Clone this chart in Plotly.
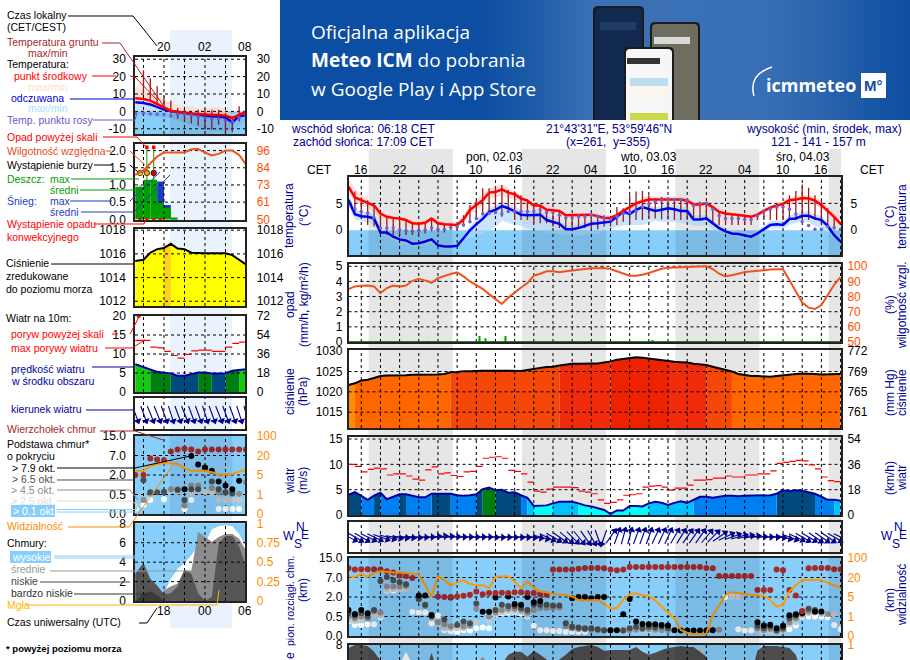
import numpy as np
import plotly.graph_objects as go

W, H = 910, 660
FONT = "Liberation Sans"

# ---------- main meteogram data (hourly, hours relative to 02.03 00:00 CET) ----------
hours = list(range(-10, 68))
tick_hours = list(range(-8, 68, 3))
label_hours = [-8, -2, 4, 10, 16, 22, 28, 34, 40, 46, 52, 58, 64]
label_text = ["16", "22", "04", "10", "16", "22", "04", "10", "16", "22", "04", "10", "16"]
sun_bands = [(-6.85, 6.3), (17.15, 30.3), (41.15, 54.3), (65.15, 67.07)]

temp_mid = [8.1,6.1,5.6,5.1,4.6,3.1,2.5,2.3,2.2,1.9,
            1.3,1.2,1.4,2.2,1.3,1.1,1.1,1.0,2.0,3.8,
            4.7,5.6,7.0,7.1,7.6,7.0,6.7,5.9,5.5,4.6,
            4.6,3.8,3.7,3.6,2.8,2.8,2.8,2.8,2.9,2.6,
            2.3,2.3,2.8,3.6,4.3,5.0,5.4,5.7,5.7,5.7,
            5.8,5.7,5.7,5.5,4.8,4.8,5.0,4.3,3.4,3.1,
            3.0,2.8,2.7,2.5,2.9,3.6,4.2,4.6,4.9,5.6,
            5.7,6.0,5.9,5.5,4.7,3.6,2.5,1.2]
temp_feel = [5.6,3.0,2.6,2.5,2.2,-0.4,-0.4,-1.2,-1.7,-1.9,
             -2.5,-2.4,-2.1,-1.7,-2.8,-3.0,-3.0,-2.9,-1.5,0.0,
             1.1,2.1,3.4,3.8,4.5,4.1,3.5,2.9,2.8,2.8,
             2.9,1.9,1.5,1.2,0.2,0.2,0.4,0.8,1.2,1.3,
             1.5,1.6,2.5,3.5,3.0,3.8,4.3,3.9,3.6,3.8,
             4.1,3.9,3.6,3.6,2.0,2.0,2.2,1.3,0.4,-0.2,
             -0.6,-0.7,-0.9,-1.2,-0.6,0.2,1.0,1.1,1.0,2.1,
             2.2,2.7,2.7,2.2,1.9,0.8,-0.9,-2.1]
temp_dew = [None,4.0,3.5,3.2,2.3,0.4,0.4,0.4,0.1,-0.1,
            -0.2,0.0,0.1,0.4,0.2,0.2,0.5,0.6,1.0,1.6,
            2.2,3.0,3.1,3.3,3.0,3.5,3.5,3.5,3.5,3.6,
            3.8,3.3,3.3,2.8,2.3,2.3,2.5,2.5,2.8,2.6,
            2.3,2.0,2.5,3.1,3.3,3.6,4.3,4.9,5.3,5.6,
            5.7,5.7,5.7,5.6,4.6,5.0,5.0,3.9,2.7,2.2,
            2.2,2.2,2.0,2.0,2.7,3.6,4.0,4.3,4.3,3.9,
            3.0,1.6,0.9,0.2,0.2,0.7,0.5,0.2]
temp_max = [9.6,7.7,6.7,5.9,5,3.8,3,2.7,2.5,2.4,
            1.9,1.6,1.9,2.5,1.9,1.7,1.6,1.4,2.8,4.7,
            5.6,6.8,7.7,8.1,8.6,7.7,7.3,6.5,6,5,
            5,4.5,4.4,4,3.4,3.3,3.3,3.3,3.3,3,
            2.8,2.8,3.2,4,4.8,5.5,5.9,6.3,6.3,6.3,
            6.3,6.3,6.3,6.2,5.3,5.3,5.5,4.8,3.9,3.6,
            3.4,3.3,3.2,3,3.4,4.1,4.7,5.1,5.4,6.1,
            6.3,6.6,6.5,6.2,5.5,4.5,3.4,2.3]
temp_min = [6.8,5.3,4.6,4.2,3.6,2.4,1.9,1.8,1.7,1.5,
            0.9,0.8,1,1.7,0.8,0.7,0.7,0.6,1.4,3,
            3.8,4.6,5.8,6,6.4,6,5.7,5,4.7,3.9,
            3.9,3.2,3.1,3,2.3,2.3,2.3,2.3,2.4,2.1,
            1.9,1.9,2.3,2.9,3.5,4.1,4.6,4.9,4.9,5,
            5.1,5,5,4.8,4.2,4.2,4.4,3.7,2.9,2.6,
            2.5,2.4,2.3,2.1,2.4,3,3.5,3.9,4.2,4.7,
            4.9,5.2,5.1,4.7,4,3,1.9,0.6]
feel_max = [6.6,4,3.5,3.3,3.0,0.2,0.1,-0.7,-1.2,-1.5,
            -2,-2,-1.7,-1.3,-2.3,-2.6,-2.6,-2.5,-0.8,0.8,
            2,3,4.2,4.6,5.3,4.9,4.4,3.8,3.6,3.6,
            3.7,2.7,2.3,2,1,1,1.1,1.5,1.9,2,
            2.1,2.2,3.2,4.1,3.7,4.5,5,4.6,4.3,4.5,
            4.9,4.7,4.4,4.4,2.8,2.8,3,2,1,0.4,
            0,-0.2,-0.4,-0.7,0,0.9,1.7,1.8,1.7,2.8,
            3,3.5,3.5,3,2.7,1.6,-0.2,-1.5]
feel_min = [4.6,2,1.7,1.5,1,-0.9,-1.2,-1.8,-2.4,-2.6,
            -3,-3,-2.8,-2.5,-3.2,-3.3,-3.3,-3.2,-2.2,-1.4,
            -1,-0.6,0,0.6,1.8,1.4,1,0.8,0.4,0.2,
            0.2,-0.4,-0.6,-0.7,-0.9,-1,-1,-0.8,-0.7,-0.7,
            -0.2,0.2,0.6,0.9,1,1,1,1.4,1.8,1.6,
            1.6,1.6,1.4,1.2,0.9,0.8,0.9,0.2,-0.4,-0.8,
            -1,-1.2,-1.4,-1.6,-1,-0.3,0.3,0.4,0.3,1,
            1.4,1.8,1.5,0.8,0.4,-0.4,-1.5,-2.6]
ground_max = [None,7.2,6.1,5.6,4.7,2.8,2.5,2.3,2.2,1.9,
              1.3,1.2,1.4,2.2,1.3,1.2,1,0.9,2.8,4.7,
              5.6,7.8,7.8,8.1,8.4,7.5,7.2,6.5,5.7,5,
              4.7,3.9,3.9,3.6,2.8,2.8,2.8,2.8,3,2.8,
              2.8,2.5,4.3,4.1,6.5,7.2,7.3,6.5,5.9,6.2,
              6.2,5.9,5.9,5.7,5,5,5.3,4.3,3.5,3.1,
              3,3,2.8,2.7,2.9,3.6,4.3,4.6,5,6.5,
              7.3,8.5,7.9,6.5,5.6,4.1,2.5,None]
ground_min = [None,3.3,2.5,1,0.7,-0.6,-0.9,-0.9,-0.9,-0.9,
              -0.9,-0.7,-0.6,-0.2,-0.4,-0.4,0,0.1,0.7,1.6,
              2.5,3.1,3.3,3.1,2.5,3.5,1.9,1.9,1.9,1.3,
              1.3,1.3,0.7,0.4,0.4,0.2,0.4,0.4,0.2,0.2,
              0.7,0.7,1,1.6,1.3,1.9,1.9,2.2,2.2,2,
              2,1.9,1.9,1.9,2,2.2,1.9,1.3,1,1,
              1,1,1,1,1.9,1.9,1.9,1.9,1.9,1.9,
              1.9,1.9,1.9,1.9,1.3,0.7,0.1,None]
humidity = [84.9,86.7,87.1,87.3,86.7,82.2,85.6,87.3,86.7,87.3,
            90.4,91.6,90.7,89.1,92.2,93.8,94.9,96,93.3,90,
            87.3,85.1,81.6,78.4,75.1,79.3,82.9,86,88.9,93.8,
            95.1,96.7,96.7,96,96.7,97.3,97.8,98.4,98.7,98.7,
            98.9,98.2,96.7,95.1,93.8,93.8,94.4,95.6,96.9,98.4,
            99.1,99.3,99.6,99.8,100,100,100,98.2,95.1,93.3,
            94,95.1,96.2,96.7,97.1,97.6,97.8,98,98,90.7,
            83.3,76,72.7,71.8,74.4,81.1,87.8,92.9]
rain_hours = [2.5, 10.45, 11.4, 12.5, 14.6, 37.6]
rain_values = [0.05, 0.4, 0.25, 0.05, 0.4, 0.1]
pressure = [1021.7,1022.1,1022.8,1023,1023.4,1023.9,1024,1024,1024.1,1024.1,
            1024.2,1024.2,1024.2,1024.3,1024.3,1024.4,1024.8,1024.9,1025.1,1025.1,
            1025.2,1025.2,1025.2,1025.2,1025.2,1025.2,1025.15,1025.15,1025.4,1025.7,
            1025.9,1026.1,1026.2,1026.5,1026.7,1026.9,1026.9,1027,1027,1027,
            1027.2,1027.5,1027.9,1028.1,1028.4,1028.5,1028.4,1028.2,1028,1027.8,
            1027.5,1027.4,1027.3,1027.2,1026.9,1026.7,1026.6,1026.2,1025.8,1025.4,
            1025,1024.4,1024.1,1023.9,1023.9,1023.8,1023.7,1023.9,1024.1,1024.3,
            1024.4,1024.5,1024.5,1024.4,1024.3,1024.3,1024.3,1024.4]
wind = [4,4.5,3.8,3,3.8,4.4,3.1,3.6,4.1,4.1,
        3.8,3.5,3.5,4.2,4.2,4.2,4.2,3.9,3.8,3.9,
        4.1,5.1,5.4,4.9,5,4.4,4.5,3.9,3.4,1.8,
        1.8,1.9,2.3,2.6,2.6,2.6,2.3,1.9,1.7,1.3,
        1,0.2,0.9,0.9,1.8,1.8,1.7,2.3,2.6,2.4,
        2,2.4,2.7,2.4,3,3.6,3.6,3.4,3.6,3.8,
        3.8,3.7,3.8,3.8,3.8,3.8,3.9,4.2,4.9,4.7,
        4.9,4.8,4.5,4.2,3.6,3,3,2.8]
gust = [10,9.6,8.5,9,9.25,9.1,7.9,8.1,8.1,7.7,
        7.1,6.9,8.9,9.5,8.1,8.3,7.8,7.6,8.5,8.6,
        9.6,11.2,11.4,11.5,11.2,8.8,8.6,8.1,6.5,4.7,
        4.5,5.1,5.5,5.5,5.5,5.4,4.7,4.5,4.2,3,
        2.3,2.5,3,3.9,4,4.2,5.5,5.7,5.8,5.5,
        4.9,5.3,5.3,5.9,6.9,6.9,7,7.3,7.3,7.7,
        7.5,7.5,7.9,7.9,8.1,8.1,8.7,10.2,10.4,10.6,
        10.8,10.7,9.9,9.1,7.5,6.8,6.6]
wind_dir = [295,300,300,295,295,290,285,280,278,276,
            275,272,270,265,262,265,268,270,270,270,
            270,270,272,272,272,272,272,272,275,278,
            285,295,300,305,310,315,320,325,330,340,
            20,215,200,195,195,200,200,200,205,205,
            205,210,212,215,215,215,220,225,235,245,
            250,255,258,262,268,270,272,275,285,290,
            295,300,300,305,305,305,300,295]
visibility = [25,22,35,23,38,46,44,41,42,39,
              37,33,14,5.4,25,18,14,16,18,15,
              14,14,12,23,23,25,17,12,17,12,
              9.2,8.7,7.4,7.2,6.6,5.4,4.4,4.3,4.3,4.4,
              3.6,2.7,2.7,4.4,7.2,7.9,6.2,6,4.3,3,
              1.7,0.9,0.31,0.17,0.1,0.1,0.12,1.3,3.2,6.6,
              8.7,8,7,6.5,6.2,6,4.4,3,3.4,9.2,
              14,18,18,18,18,16,14,12]

top_hours = list(range(-10, 1)) + list(range(4, 68))
top_km = [10.8,10.3,10.4,10.4,10.4,10.3,9.6,9.1,7.8,7.6,6.9,
          2.1,2,2,2.1,2.3,2.6,3.4,2.7,3,3,3.1,3,3.2,3.2,3,3,2.7,2.6,
          10.3,10.3,10.3,10.3,10.6,10.9,10.9,10.9,10.8,10.3,10,10.3,
          11.3,11.3,11.3,11.3,11.3,11.3,11.3,11.3,11.3,11.3,11.3,11.3,10.9,10.8,
          7.6,7.6,7.6,7.6,7.6,7.6,3.8,3.8,3.8,10.3,10,3.8,2.4,0.9,
          10.8,10.9,10.9,10.9,10.4,10.4]
black_hours = [-10,-9,-8,-7,1,2,3,6,11,12,13,15,16,17,18,19,20,25,26,27,28,29,30,31,32,33,34,35,36,37,38,39,40,41,42,43,44,45,46,47,54,55,56,57,58,59,60,61,63,64]
black_km = [1.0,0.7,1.0,0.75,2.4,2.4,0.62,1.96,0.86,0.86,1.96,2.1,1.47,1.4,2.0,1.6,1.7,1.9,2,2,1.9,2,2,0.15,0.15,0.67,1.85,0.37,0.31,0.3,0.3,0.28,0.27,0.15,0.14,0.14,0.14,0.14,0.14,0.15,0.35,0.27,0.29,0.2,0.26,0.6,0.67,0.75,0.875,0.875]
dark_hours = [-10,-9,-8,-7,-6,-5,-4,-3,-2,-1,1,2,3,5,7,8,9,10,13,14,15,16,17,18,19,20,21,22,23,24,25,26,27,28,29,30,31,33,34,35,36,37,38,39,40,54,55,56,57,58,59,60,61,62,63]
dark_km = [0.75,0.55,0.75,0.5,1.0,6.1,7.2,6.3,5.8,5.3,1.85,1.4,0.5,0.42,0.28,0.37,0.33,1.5,1.0,1.4,1.3,1.3,1.15,1.0,1.4,1.4,1.4,1.35,1.35,0.33,0.24,0.22,0.2,0.2,0.17,0.15,0.15,0.15,0.2,0.24,0.2,0.24,0.22,0.24,0.2,0.26,0.2,0.24,0.15,0.2,0.45,0.55,0.9,1.1,1.0]
grey_hours = [-10,-9,-8,-7,-6,-5,-4,-3,-2,-1,1,2,3,4,5,6,8,9,10,12,13,14,15,16,17,18,19,20,21,22,23,24,25,26,27,28,29,30,31,33,34,35,36,37,38,39,40,47,48,54,55,56,57,58,59,60,61,62,63,64,65]
grey_km = [0.5,0.45,0.5,0.45,0.9,0.8,4.7,4.7,4.7,4.8,1.8,1.3,0.5,0.35,0.3,0.25,0.25,0.27,1.1,0.5,0.8,1,1.1,1.1,1,0.8,1,1.15,1.15,1.15,1.2,0.25,0.2,0.18,0.17,0.16,0.15,0.14,0.14,0.13,0.15,0.16,0.17,0.18,0.16,0.15,0.14,0.16,0.16,0.2,0.15,0.18,0.12,0.16,0.35,0.45,0.7,0.9,0.85,0.8,0.7]
light_hours = [-10,-9,-8,-6,-5,-4,-3,-2,-1,3,4,5,6,7,8,9,10,12,13,14,15,16,17,18,33,34,35,36,37,50,51,54,55,56,58,59,60,61,62,63,64,65,66]
light_km = [0.4,0.38,0.4,0.6,0.55,3.8,4,4,4,0.45,0.3,0.2,0.2,0.2,0.2,0.25,0.35,0.4,0.7,0.8,0.9,0.9,0.85,0.6,0.12,0.14,0.15,0.15,0.15,2.0,2.0,0.12,0.12,0.12,0.13,0.3,0.35,0.55,0.75,0.8,0.7,0.75,0.7]
white_hours = [-10,-9,-8,-7,-6,-5,-4,-3,-2,0,1,2,3,4,5,6,7,8,9,10,11,12,13,14,15,16,17,18,19,20,21,22,23,24,25,26,27,49,50,51,52,53,59,60,61,62,63,64,65,66,67]
white_km = [0.37,0.28,0.28,0.3,0.3,0.48,3.6,3.6,3.9,0.85,0.8,0.8,0.32,0.55,0.15,0.12,0.1,0.15,0.14,0.2,0.22,0.2,0.65,0.75,0.8,0.85,0.75,0.5,0.26,0.15,0.15,0.13,0.13,0.1,0.1,0.1,0.1,2.0,2.1,0.17,0.14,0.14,0.17,0.27,0.5,0.5,0.5,0.5,0.48,0.28,0.17]

cloud_low_main = [7.7,8,8,7.9,7.3,6.4,5,5,5,5,
                  6,6,5,7.2,5,5,5,5,5,5,
                  5,5,5,5,6,7,7.3,7.3,6.8,7.4,
                  7,6.5,6,6.5,7,7.6,7.8,7.9,8,7.8,
                  7.4,7.5,7.5,7.5,7.5,7.8,7.3,7,7.2,7.5,
                  7.7,7.8,7.9,7.8,7.8,7.3,6.8,5,5,5,
                  5,5,5,5,7.4,7.9,7.9,7.9,7.8,7.7,
                  7,5,5,5,5,5,5,5]
cloud_high_main_hours = [-2, -1, 0]
cloud_high_main = [6, 7.3, 6]
cloud_mid_main_hours = [10, 11, 12]
cloud_mid_main = [6, 6.8, 6]
fog_main_hours = [44.1, 45.05]
fog_main = [7.6, 7.6]

# ---------- left legend column data (hours CET on the evening shown, 24 = 00:00) ----------
left_hours = [15.8,17,18,19,20,21,22,23,24,25,26,27,28,29,30,31,32]
left_ticks = [17, 20, 23, 26, 29]
left_label_hours = [20, 26, 31.85]
left_top_text = ["20", "02", "08"]
left_bottom_text = ["18", "00", "06"]
l_red = [7.5,7.1,6.2,4.4,2.5,0.4,-0.4,-1,-1.2,-1.5,-2,-2.1,-2.1,-2.5,-3.8,-2,-0.2]
l_blue = [5.2,4.8,4,2.3,1,0.2,-0.4,-1,-1.5,-1.9,-2.5,-3,-3,-3.5,-6.3,-2.5,-2.3]
l_dew = [-1,-1,-1.5,-1.6,-1.9,-2.5,-1.6,-1.7,-2.2,-3,-3.8,-4.4,-4.3,-5.2,-5.8,-3.6,-2.5]
l_tmax = [14,12,10.5,9,7,4.8,3.8,3.2,2.8,1.9,1.9,2.3,2.5,1,-1.9,-1,0.6]
l_tmin = [5.5,5,4.4,2.8,1.2,-0.4,-1,-1.6,-1.9,-2.3,-2.8,-2.9,-3,-3.4,-4.8,-3,-1]
l_fmin = [-1,-1.5,-2.2,-3,-3.8,-3.9,-5.3,-6.6,-8,-9.3,-10.6,-10.9,-11.2,-11.5,-10.5,-8,-5.5]
l_gmax = [None,23.6,19,14.4,9,6.3,1.9,1,0,1,1,1,1,-1,-2.9,2.9,None]
l_gmin = [None,10.6,6.7,4.8,2.5,-1,-4.2,-5.8,-7,-8.3,-10.6,-10.6,-7.7,-12,-12,-5.8,None]
l_humidity = [79.7,82.6,87.5,92,94.7,94.7,94.7,94.7,96.9,97.1,94.7,92.7,93.8,96,96,93.1,86.8]
l_rain_hours = [16.4,17.5,18.5,19.5,20.5,21.5]
l_rain_width = [1.2,1,1,1,1,1]
l_rain = [0.95,1.15,1.15,0.5,0.33,0.05]
l_snow = [0,0,0,1.1,0.42,0]
storm_hours = [16.5,17.5,18.5]
storm_level = [1.35,1.35,1.35]
storm_colors = ["#ffe600","#ffa500","#e00000"]
over_hours = [17.5,18.5]
over_level = [2.1,2.1]
conv_hours = [16.5,17.5,18.5,19.5]
conv_level = [0,0,0,0]
l_pressure = [1015.4,1015.5,1016.1,1016.4,1016.5,1016.85,1016.45,1016.4,1016.1,1016.05,1016.05,1016.05,1016.05,1016.05,1015.9,1015.5,1015.1]
l_wind = [7.3,6.5,5.8,5.3,5.1,4.9,4.3,4.3,4.7,5.1,5.1,4.9,4.9,4.95,5.6,5.8,6]
l_gust = [13.6,13.6,11.8,11.6,10.7,9.6,8.9,9.9,10.8,11,11,10.7,10.7,11.8,12.8,13.1]
l_dir = [340,340,338,338,340,342,340,338,340,340,342,340,338,340,340,342,345]
l_visibility = [8.3,8.3,11.9,13.4,14,14,13.4,10.1,8.3,8.3,8.3,7.1,5.3,5.3,5.8,7.6,8.9]
l_top_km = [2,2,6.2,6.0,5.8,8.6,9.5,9.8,9.5,8.6,9.5,9.5,9.5,9.5,9.5,9.5,9.5]
l_black_hours = [23,24,25,26,27,28,29,30,31]
l_black_km = [0.9,6.9,4.7,3.9,3.1,1.5,1.2,0.9,1.55]
l_dark_hours = [17,18,19,20,22,23,24,25,26,27,28,29,30]
l_dark_km = [1.6,0.67,0.67,0.72,0.85,0.36,0.9,0.9,3.7,1.5,0.9,0.67,0.6]
l_grey_hours = [17,18,21,22,23,24,25,27,28,29,30,31,32]
l_grey_km = [0.36,0.62,0.9,0.9,0.22,1.2,1.2,1.0,0.65,0.62,0.55,0.55,1.45]
l_light_hours = [15.9,17,21,22,24,25,26,27,28,29,30,31,32]
l_light_km = [0.2,0.36,0.85,0.72,0.6,0.75,0.7,0.65,0.36,0.36,0.36,0.36,0.36]
l_white_hours = [15.9,17,18,20,23,24,28,29,30,31]
l_white_km = [0.14,0.23,0.36,0.38,0.12,0.36,0.13,0.13,0.13,0.13]
l_cloud_high = [0,0,0,0,0.8,2.3,3.3,3.9,4.7,5.7,5.9,7.4,7.7,7.8,7.7,6.9,5.6]
l_cloud_mid = [0,0,0,0,1.1,1.5,1.8,3.2,3.1,7.1,6.6,6.1,6.6,6.9,6.9,6.4,5.2]
l_cloud_low = [2.8,3.9,2.3,1.6,0.7,0.8,1.5,3.2,2.8,0.8,0,0.4,5.9,6.7,6.7,5.6,3.5]
l_cloud_vlow = [0,0.8,1,0.6,0,0,0,0,0,0,0,0,0,0,0,0,0]
l_fog_hours = [28.1,29.1,30.1,31.1]
l_fog = [1.1,1.1,1.1,1.1]

# scales
BASE_KM = [0, 0.5, 2, 7, 15]
BASE_VIS = [0, 1, 5, 20, 100]
base_pos = lambda v: [None if a is None else float(np.interp(a, BASE_KM, [0, 1, 2, 3, 4])) for a in v]
vis_pos = lambda v: [float(np.interp(a, BASE_VIS, [0, 1, 2, 3, 4])) for a in v]

# ---------- helpers ----------
fig = go.Figure()
layout = {}
shapes = []
annotations = []
PX = lambda x: x / W
PY = lambda y: 1 - y / H
LEG = 10.5


def text(x, y, s, color="black", size=12, anchor="left", angle=0, family=FONT, bg=None):
    a = dict(x=PX(x), y=PY(y), xref="paper", yref="paper", text=s, showarrow=False,
             xanchor=anchor, yanchor="middle", textangle=angle,
             font=dict(family=family, size=size, color=color), borderpad=0)
    if bg:
        a["bgcolor"] = bg
    annotations.append(a)


def hour_labels(xa, ts, labels, y):
    for t, s in zip(ts, labels):
        annotations.append(dict(x=t, y=PY(y), xref=xa, yref="paper", text=s, showarrow=False, xanchor="center",
                                yanchor="middle", font=dict(family=FONT, size=12, color="black"), borderpad=0))


def leader(pts, color, width=1):
    path = "M " + " L ".join(f"{PX(x):.5f},{PY(y):.5f}" for x, y in pts)
    shapes.append(dict(type="path", path=path, xref="paper", yref="paper", layer="above",
                       line=dict(color=color, width=width)))


def box(x0, y0, x1, y1, color, layer="below"):
    shapes.append(dict(type="rect", xref="paper", yref="paper", x0=PX(x0), x1=PX(x1),
                       y0=PY(y1), y1=PY(y0), fillcolor=color, line=dict(width=0), layer=layer))


count = 1


def panel(xpx, ypx, xr, yr, lt, ltxt=None, rt=None, rtxt=None, rcolor="black", r2=None, lpad=2, rpad=3):
    global count
    count += 1
    n = count
    xa = dict(domain=[PX(xpx[0]), PX(xpx[1])], range=xr, anchor=f"y{n}", showgrid=False, zeroline=False,
              showline=True, mirror=True, linecolor="#222222", linewidth=1.5, layer="above traces",
              ticks="", showticklabels=False, fixedrange=True)
    ya = dict(domain=[PY(ypx[1]), PY(ypx[0])], range=yr, anchor=f"x{n}", showgrid=False, zeroline=False,
              showline=True, mirror=True, linecolor="#222222", linewidth=1.5, layer="above traces",
              tickvals=lt, ticktext=ltxt if ltxt else [str(v) for v in lt], ticks="outside", ticklen=lpad,
              tickcolor="rgba(0,0,0,0)", fixedrange=True,
              tickfont=dict(family=FONT, size=12, color="black"), showticklabels=bool(lt))
    layout[f"xaxis{n}"] = xa
    layout[f"yaxis{n}"] = ya
    y2 = None
    if rt:
        y2 = f"y{n}0"
        layout[f"yaxis{n}0"] = dict(overlaying=f"y{n}", side="right", anchor=f"x{n}", range=r2 if r2 else yr,
                                    tickvals=rt, ticktext=rtxt if rtxt else [str(v) for v in rt], ticks="outside",
                                    ticklen=rpad, tickcolor="rgba(0,0,0,0)",
                                    showgrid=False, zeroline=False, showline=False, fixedrange=True,
                                    tickfont=dict(family=FONT, size=12, color=rcolor))
    return f"x{n}", f"y{n}", y2


def line(xa, ya, x, y, color, width=2, dash=None, shape="linear"):
    fig.add_trace(go.Scatter(x=x, y=y, xaxis=xa, yaxis=ya, mode="lines", connectgaps=False,
                             line=dict(color=color, width=width, dash=dash, shape=shape), hoverinfo="skip"))


def grid(xa, ya, xs, levels, xr, yr):
    gx, gy = [], []
    for v in xs:
        gx += [v, v, None]
        gy += [yr[0], yr[1], None]
    for v in levels:
        gx += [xr[0], xr[1], None]
        gy += [v, v, None]
    line(xa, ya, gx, gy, "black", 1, "3px,3px")


def band(xa, ya, x, upper, lower, color):
    fig.add_trace(go.Scatter(x=list(x) + list(x)[::-1], y=list(upper) + list(lower)[::-1], xaxis=xa, yaxis=ya,
                             mode="none", fill="toself", fillcolor=color, hoverinfo="skip"))


def stepped_area(xa, ya, x, y, base, colour_of):
    groups = {}
    for i in range(len(x) - 1):
        c = colour_of((y[i] + y[i + 1]) / 2)
        px, py = groups.setdefault(c, ([], []))
        px += [x[i], x[i + 1], x[i + 1], x[i], x[i], None]
        py += [y[i], y[i + 1], base, base, y[i], None]
    for c, (px, py) in groups.items():
        fig.add_trace(go.Scatter(x=px, y=py, xaxis=xa, yaxis=ya, mode="none", fill="toself", fillcolor=c,
                                 hoverinfo="skip"))


def ghost(xa, ya, x, y):
    fig.add_trace(go.Scatter(x=[x], y=[y], xaxis=xa, yaxis=ya, mode="markers", marker=dict(opacity=0, size=1),
                             hoverinfo="skip"))


def dots(xa, ya, x, y, color, size=6):
    fig.add_trace(go.Scatter(x=x, y=y, xaxis=xa, yaxis=ya, mode="markers", hoverinfo="skip",
                             marker=dict(color=color, size=size, line=dict(width=0))))


def arrows(xa, ya, x, dirs, hour_px, length):
    lx, ly, hx, hy, ang = [], [], [], [], []
    for t, d in zip(x, dirs):
        b = np.radians(d + 180)
        dx, dy = np.sin(b) * length / 2, np.cos(b) * length / 2
        lx += [t - dx / hour_px, t + dx / hour_px, None]
        ly += [-dy, dy, None]
        hx.append(t + dx / hour_px)
        hy.append(dy)
        ang.append((d + 180) % 360)
    fig.add_trace(go.Scatter(x=lx, y=ly, xaxis=xa, yaxis=ya, mode="lines", cliponaxis=False,
                             line=dict(color="#00008b", width=1.1), hoverinfo="skip"))
    fig.add_trace(go.Scatter(x=hx, y=hy, xaxis=xa, yaxis=ya, mode="markers", cliponaxis=False, hoverinfo="skip",
                             marker=dict(symbol="triangle-up", size=7, angle=ang, color="#00008b", line=dict(width=0))))


# ---------- banner ----------
edge_x = [280, 480, 520, 560, 590, 640, 700, 770, 830, 880, 910]
edge_c = [(12, 78, 163), (13, 79, 163), (24, 88, 167), (43, 101, 174), (58, 112, 181), (60, 113, 181),
          (58, 112, 181), (56, 110, 180), (42, 99, 173), (22, 84, 165), (14, 78, 162)]
edge_c = np.array(edge_c, dtype=float)
for xs in range(280, 910, 8):
    c = [int(np.interp(xs + 4, edge_x, edge_c[:, k])) for k in range(3)]
    box(xs, 0, min(xs + 8.5, 910), 120, f"rgb({c[0]},{c[1]},{c[2]})")


def phone(x0, y0, x1, y1, screen):
    r = 5
    for (a, b, c, d, col, rr) in [(x0, y0, x1, y1, "#1b1b1d", r), (x0 + 2, y0 + 2, x1 - 2, y1, screen, r - 1)]:
        p = (f"M {PX(a+rr):.5f},{PY(b):.5f} L {PX(c-rr):.5f},{PY(b):.5f} Q {PX(c):.5f},{PY(b):.5f} {PX(c):.5f},{PY(b+rr):.5f} "
             f"L {PX(c):.5f},{PY(d):.5f} L {PX(a):.5f},{PY(d):.5f} L {PX(a):.5f},{PY(b+rr):.5f} "
             f"Q {PX(a):.5f},{PY(b):.5f} {PX(a+rr):.5f},{PY(b):.5f} Z")
        shapes.append(dict(type="path", path=p, xref="paper", yref="paper", fillcolor=col,
                           line=dict(width=0), layer="below"))


phone(593, 6, 644, 120, "#11294f")
box(600, 22, 636, 30, "#1f3a66")
phone(650, 22, 700, 120, "#6e6d60")
box(654, 37, 690, 44, "#d9d9d4")
phone(624, 47, 674, 120, "#f6f6f6")
box(627, 58, 660, 64, "#333333")
box(630, 78, 668, 86, "#bcdcf0")
box(630, 86, 668, 100, "#fbf5f0")
box(630, 113, 668, 120, "#cbd84a")
text(310, 32, "Oficjalna aplikacja", "white", 19, family="Open Sans")
text(310, 60, "<b>Meteo ICM</b> do pobrania", "white", 19, family="Open Sans")
text(310, 89, "w Google Play i App Store", "white", 19, family="Open Sans")
text(765, 85, "<b>icmmeteo</b>", "white", 18, family="Open Sans")
box(861, 73, 886, 98, "white")
text(873.5, 85.5, "<b>M°</b>", "#104f9f", 15, "center", family=FONT)
shapes.append(dict(type="path", xref="paper", yref="paper", layer="above",
                   path=f"M {PX(772):.5f},{PY(67):.5f} Q {PX(748):.5f},{PY(75):.5f} {PX(754):.5f},{PY(96):.5f}",
                   line=dict(color="white", width=1.5)))

# ---------- header ----------
NAVY = "#000090"
text(290, 129, "wschód słońca: 06:18 CET", NAVY)
text(292, 142, "zachód słońca: 17:09 CET", NAVY)
text(609, 129, "21°43'31\"E, 53°59'46\"N", NAVY, anchor="center")
text(608, 142, "(x=261,  y=355)", NAVY, anchor="center")
text(824, 129, "wysokość (min, środek, max)", NAVY, anchor="center")
text(818, 142, "121 - 141 - 157 m", NAVY, anchor="center")
text(495, 157, "pon, 02.03", anchor="center")
text(648, 157, "wto, 03.03", anchor="center")
text(803, 157, "śro, 04.03", anchor="center")
text(319, 170, "CET", anchor="center")
text(872, 170, "CET", anchor="center")

# ---------- night bands (main) and day band (left) ----------
MX = [348.5, 841]
MR = [-10, 67.07]
LX = [135, 245.3]
LR = [15.76, 31.9]
BLUE = "#87cefa"

box(170, 30, 232, 628, "#eaf2fd")

# ---------- main panels ----------
xa, ya, y2 = panel(MX, [177, 255], MR, [-4.6, 9.9], [5, 0], rt=[5, 0], rpad=6)
main_temp = (xa, ya)
hour_labels(xa, label_hours, label_text, 170)
for a, b in sun_bands:
    shapes.append(dict(type="rect", xref=xa, yref="paper", x0=a, x1=b, y0=0, y1=PY(149),
                       fillcolor="#e6e6e6", line=dict(width=0), layer="below"))
shapes.append(dict(type="rect", xref=f"{xa} domain", yref=ya, x0=0, x1=1, y0=-4.6, y1=0, fillcolor=BLUE,
                   line=dict(width=0), layer="below"))
band(xa, ya, hours, temp_max, temp_min, "rgba(255,205,205,0.65)")
band(xa, ya, hours, feel_max, feel_min, "rgba(170,215,250,0.65)")
grid(xa, ya, tick_hours, [5], MR, [-4.6, 9.9])
gx, gy = [], []
for t, a, b in zip(hours, ground_max, ground_min):
    if a is not None:
        gx += [t, t, None]
        gy += [a, b, None]
line(xa, ya, gx, gy, "#a01818", 1.3)
line(xa, ya, hours, temp_feel, "#0000ee", 2.5)
line(xa, ya, hours, temp_mid, "#ff0000", 2.5)
dots(xa, ya, hours, temp_dew, "#7060d8", 3.5)
ghost(xa, y2, 30, 0)

xa, ya, y2 = panel(MX, [264, 342], MR, [0, 5.15], [5, 4, 3, 2, 1, 0], rt=[100, 90, 80, 70, 60, 50], rcolor="#ff5000", r2=[50, 101.5])
grid(xa, ya, tick_hours, [1, 2, 3, 4, 5], MR, [0, 5.15])
fig.add_trace(go.Bar(x=rain_hours, y=rain_values, width=0.18, xaxis=xa, yaxis=ya, marker=dict(color="#00a000", line=dict(width=0)), hoverinfo="skip"))
line(xa, ya, hours, [0.02] * len(hours), "#006400", 1)
line(xa, y2, hours, humidity, "#f0521e", 2)

xa, ya, y2 = panel(MX, [350, 428], MR, [1011.1, 1030.3], [1030, 1025, 1020, 1015], rt=[1030, 1025, 1020, 1015], rtxt=["772", "769", "765", "761"])


def press_colour(p):
    if p < 1022.4:
        return "#ff8c00"
    if p < 1024.72:
        return "#ff6600"
    if p < 1026.6:
        return "#f5470a"
    if p < 1027.6:
        return "#f02c0c"
    return "#ee2200"


stepped_area(xa, ya, hours, pressure, 1011.1, press_colour)
grid(xa, ya, tick_hours, [1025, 1020, 1015], MR, [1011.1, 1030.3])
line(xa, ya, hours, pressure, "black", 2)
ghost(xa, y2, 30, 1020)

xa, ya, y2 = panel(MX, [437, 515], MR, [0, 15.4], [15, 10, 5, 0], rt=[15, 10, 5, 0], rtxt=["54", "36", "18", "0"])


def wind_colour(v):
    if v >= 5:
        return "#007f0e"
    if v >= 4.06:
        return "#004a80"
    if v >= 3:
        return "#0080f0"
    if v >= 2.1:
        return "#00c0ff"
    return "#00ffff"


stepped_area(xa, ya, hours, wind, 0, wind_colour)
grid(xa, ya, tick_hours, [15, 10, 5], MR, [0, 15.4])
line(xa, ya, hours, wind, "#0000a0", 2)
gx, gy = [], []
for t, v in zip(hours, gust):
    gx += [t, t + 1, None]
    gy += [v, v, None]
line(xa, ya, gx, gy, "#ff0000", 1.2)
ghost(xa, y2, 30, 5)

xa, ya, y2 = panel(MX, [522, 552], MR, [-15, 15], [])
grid(xa, ya, tick_hours, [], MR, [-15, 15])
arrows(xa, ya, hours, wind_dir, 6.39, 15)

xa, ya, y2 = panel(MX, [558, 636], MR, [0, 4], [4, 3, 2, 1, 0], ["15.0", "7.0", "2.0", "0.5", "0.0"],
                   rt=[4, 3, 2, 1, 0], rtxt=["100", "20", "5", "1", "0"], rcolor="#ff8c00")
shapes.append(dict(type="rect", xref=f"{xa} domain", yref=f"{ya} domain", x0=0, x1=1, y0=0, y1=1, fillcolor=BLUE,
                   line=dict(width=0), layer="below"))
main_base = (xa, ya)
grid(xa, ya, tick_hours, [1, 2, 3], MR, [0, 4])
dots(xa, ya, white_hours, base_pos(white_km), "#ffffff")
dots(xa, ya, light_hours, base_pos(light_km), "#c8c8c8")
dots(xa, ya, grey_hours, base_pos(grey_km), "#8c8c8c")
dots(xa, ya, dark_hours, base_pos(dark_km), "#4d4d4d")
dots(xa, ya, black_hours, base_pos(black_km), "#000000")
dots(xa, ya, top_hours, base_pos(top_km), "#a52a2a")
line(xa, y2, hours, vis_pos(visibility), "#ff9900", 2)

cloud_top = 8 - 15 / 9.75
xa, ya, y2 = panel(MX, [645, 660], MR, [cloud_top, 8], [8], rt=[8], rtxt=["1"], rcolor="#ff8c00")
shapes.append(dict(type="rect", xref=f"{xa} domain", yref=f"{ya} domain", x0=0, x1=1, y0=0, y1=1, fillcolor=BLUE,
                   line=dict(width=0), layer="below"))
main_cloud = (xa, ya)
fig.add_trace(go.Scatter(x=cloud_high_main_hours, y=cloud_high_main, xaxis=xa, yaxis=ya, mode="none", fill="tozeroy", fillcolor="#ffffff", hoverinfo="skip"))
fig.add_trace(go.Scatter(x=cloud_mid_main_hours, y=cloud_mid_main, xaxis=xa, yaxis=ya, mode="none", fill="tozeroy", fillcolor="#8c8c8c", hoverinfo="skip"))
fig.add_trace(go.Scatter(x=hours, y=cloud_low_main, xaxis=xa, yaxis=ya, mode="none", fill="tozeroy", fillcolor="#4d4d4d", hoverinfo="skip"))
grid(xa, ya, tick_hours, [], MR, [cloud_top, 8])
fig.add_trace(go.Bar(x=fog_main_hours, y=fog_main, width=0.35, xaxis=xa, yaxis=ya, marker=dict(color="#ffb400", line=dict(width=0)), hoverinfo="skip"))
ghost(xa, y2, 30, 7.5)

# shade the night part of the blue backgrounds
for (xa, ya), lo, hi in [(main_temp, -4.6, 0), (main_base, 0, 4), (main_cloud, cloud_top, 8)]:
    for a, b in sun_bands:
        shapes.append(dict(type="rect", xref=xa, yref=ya, x0=a, x1=b, y0=lo, y1=hi, fillcolor="rgba(0,0,20,0.09)",
                           line=dict(width=0), layer="above"))

# ---------- left panels ----------
LP, RP = 5, 8
xa, ya, y2 = panel(LX, [57.3, 134], LR, [-13, 31.1], [30, 20, 10, 0, -10], rt=[30, 20, 10, 0, -10], lpad=LP, rpad=RP)
hour_labels(xa, left_label_hours, left_top_text, 47)
l_temp = (xa, ya)
shapes.append(dict(type="rect", xref=f"{xa} domain", yref=ya, x0=0, x1=1, y0=-13, y1=0, fillcolor=BLUE,
                   line=dict(width=0), layer="below"))
band(xa, ya, left_hours, l_tmax, l_tmin, "rgba(255,215,205,0.8)")
band(xa, ya, left_hours, l_blue, l_fmin, "rgba(90,160,230,0.3)")
grid(xa, ya, left_ticks, [30, 20, 10, 0, -10], LR, [-13, 31.1])
gx, gy = [], []
for t, a, b in zip(left_hours, l_gmax, l_gmin):
    if a is not None:
        gx += [t, t, None]
        gy += [a, b, None]
line(xa, ya, gx, gy, "#a01818", 1.3)
line(xa, ya, left_hours, l_blue, "#0000ee", 2.5)
line(xa, ya, left_hours, l_red, "#ff0000", 2.5)
dots(xa, ya, left_hours, l_dew, "#7060d8", 3.5)
ghost(xa, y2, 20, 0)

xa, ya, y2 = panel(LX, [143.7, 220], LR, [-0.02, 2.2], [2, 1.5, 1, 0.5, 0], ["2.0", "1.5", "1.0", "0.5", "0.0"],
                   rt=[96, 84.5, 73, 61.5, 50], rtxt=["96", "84", "73", "61", "50"], rcolor="#ff5000", r2=[49.54, 100.6], lpad=LP, rpad=RP)
fig.add_trace(go.Bar(x=l_rain_hours, y=l_snow, width=l_rain_width, xaxis=xa, yaxis=ya, marker=dict(color="#1c3cc8", line=dict(width=0)), hoverinfo="skip"))
fig.add_trace(go.Bar(x=l_rain_hours, y=l_rain, width=l_rain_width, xaxis=xa, yaxis=ya, marker=dict(color="#00a000", line=dict(width=0)), hoverinfo="skip"))
grid(xa, ya, left_ticks, [0.5, 1, 1.5, 2], LR, [-0.02, 2.2])
sx, sy = [], []
for t, v in zip(storm_hours, [0.95, 2.1, 2.1]):
    sx += [t, t, None]
    sy += [1.0, v, None]
line(xa, ya, sx, sy, "#00a000", 1)
fig.add_trace(go.Scatter(x=storm_hours, y=storm_level, xaxis=xa, yaxis=ya, mode="markers", hoverinfo="skip",
                         marker=dict(color=storm_colors, size=5.5, line=dict(color="black", width=0.7))))
fig.add_trace(go.Scatter(x=over_hours, y=over_level, xaxis=xa, yaxis=ya, mode="markers", hoverinfo="skip",
                         marker=dict(color="#ff0000", size=3.5, symbol="square", line=dict(width=0))))
fig.add_trace(go.Scatter(x=conv_hours, y=conv_level, xaxis=xa, yaxis=ya, mode="markers", hoverinfo="skip", cliponaxis=False,
                         marker=dict(color="#ff0000", size=3, line=dict(width=0))))
line(xa, y2, left_hours, l_humidity, "#f0521e", 2)

xa, ya, y2 = panel(LX, [229, 306], LR, [1011.6, 1018.1], [1018, 1016, 1014, 1012], rt=[1018, 1016, 1014, 1012], lpad=LP, rpad=RP)
stepped_area(xa, ya, left_hours, l_pressure, 1011.6, lambda p: "#ffd21a" if p > 1016.66 else "#ffff00")
grid(xa, ya, left_ticks, [1018, 1016, 1014, 1012], LR, [1011.6, 1018.1])
line(xa, ya, left_hours, l_pressure, "black", 2)
ghost(xa, y2, 20, 1014)

xa, ya, y2 = panel(LX, [316, 392], LR, [0, 20], [20, 15, 10, 5, 0], rt=[20, 15, 10, 5, 0], rtxt=["72", "54", "36", "18", "0"], lpad=LP, rpad=RP)
stepped_area(xa, ya, left_hours, l_wind, 0, lambda v: "#14c814" if v >= 5.7 else ("#007f0e" if v >= 5 else "#004a80"))
grid(xa, ya, left_ticks, [15, 10, 5], LR, [0, 20])
line(xa, ya, left_hours, l_wind, "#0000a0", 2)
gx, gy = [], []
for t, t2, v in zip(left_hours[:-1], left_hours[1:], l_gust):
    gx += [t, t2, None]
    gy += [v, v, None]
line(xa, ya, gx, gy, "#ff0000", 1.2)
fig.add_trace(go.Scatter(x=[16.3], y=[20], xaxis=xa, yaxis=ya, mode="markers", cliponaxis=False, hoverinfo="skip",
                         marker=dict(color="#ff0000", size=3.5, symbol="square", line=dict(width=0))))
ghost(xa, y2, 20, 5)

xa, ya, y2 = panel(LX, [398, 429], LR, [-15.5, 15.5], [])
grid(xa, ya, left_ticks, [], LR, [-15.5, 15.5])
arrows(xa, ya, left_hours, l_dir, 6.83, 16)

xa, ya, y2 = panel(LX, [436, 514], LR, [0, 4], [4, 3, 2, 1, 0], ["15.0", "7.0", "2.0", "0.5", "0.0"],
                   rt=[4, 3, 2, 1, 0], rtxt=["100", "20", "5", "1", "0"], rcolor="#ff8c00", lpad=LP, rpad=RP)
shapes.append(dict(type="rect", xref=f"{xa} domain", yref=f"{ya} domain", x0=0, x1=1, y0=0, y1=1, fillcolor=BLUE,
                   line=dict(width=0), layer="below"))
l_base = (xa, ya)
grid(xa, ya, left_ticks, [1, 2, 3], LR, [0, 4])
dots(xa, ya, l_white_hours, base_pos(l_white_km), "#ffffff")
dots(xa, ya, l_light_hours, base_pos(l_light_km), "#c8c8c8")
dots(xa, ya, l_grey_hours, base_pos(l_grey_km), "#8c8c8c")
dots(xa, ya, l_dark_hours, base_pos(l_dark_km), "#4d4d4d")
dots(xa, ya, l_black_hours, base_pos(l_black_km), "#000000")
dots(xa, ya, left_hours, base_pos(l_top_km), "#a52a2a")
line(xa, y2, left_hours, vis_pos(l_visibility), "#ff9900", 2)

xa, ya, y2 = panel(LX, [523.3, 601], LR, [0, 8], [8, 6, 4, 2, 0], rt=[8, 6, 4, 2, 0], rtxt=["1", "0.75", "0.5", "0.25", "0"],
                   rcolor="#ff8c00", lpad=LP, rpad=RP)
hour_labels(xa, left_label_hours, left_bottom_text, 611)
shapes.append(dict(type="rect", xref=f"{xa} domain", yref=f"{ya} domain", x0=0, x1=1, y0=0, y1=1, fillcolor=BLUE,
                   line=dict(width=0), layer="below"))
l_cloud = (xa, ya)
for vals, col in [(l_cloud_high, "#ffffff"), (l_cloud_mid, "#8c8c8c"), (l_cloud_low, "#555555"), (l_cloud_vlow, "#3a3a3a")]:
    fig.add_trace(go.Scatter(x=left_hours, y=vals, xaxis=xa, yaxis=ya, mode="none", fill="tozeroy", fillcolor=col, hoverinfo="skip"))
grid(xa, ya, left_ticks, [2, 4, 6], LR, [0, 8])
fig.add_trace(go.Bar(x=l_fog_hours, y=l_fog, width=0.45, xaxis=xa, yaxis=ya, marker=dict(color="#ffb400", line=dict(width=0)), hoverinfo="skip"))
ghost(xa, y2, 20, 4)

for (xa, ya), lo, hi in [(l_temp, -13, 0), (l_base, 0, 4)]:
    shapes.append(dict(type="rect", xref=xa, yref=ya, x0=20.88, x1=30, y0=lo, y1=hi, fillcolor="rgba(0,0,40,0.08)",
                       line=dict(width=0), layer="above"))

# ---------- rotated axis titles ----------
for x, y, s in [(289, 216, "temperatura"), (304, 216, "(°C)"), (290, 305, "opad"), (304, 305, "(mm/h, kg/m²/h)"),
                (290, 392, "ciśnienie"), (303, 392, "(hPa)"), (290, 481, "wiatr"), (303, 481, "(m/s)"),
                (303, 590, "(km)"), (290, 656, "e"),
                (890, 217, "(°C)"), (902, 217, "temperatura"), (890, 305, "(%)"), (902, 305, "wilgotność wzgl."),
                (890, 393, "(mm Hg)"), (902, 393, "ciśnienie"), (890, 478, "(km/h)"), (902, 478, "wiatr"),
                (890, 600, "(km)"), (902, 595, "widzialność")]:
    text(x, y, s, NAVY, anchor="center", angle=-90)
text(290, 601, "pion. rozciągł. chm.", NAVY, 10.5, "center", -90)
for dx in (0, 598):
    text(289 + dx, 536, "W", NAVY, anchor="center")
    text(300 + dx, 527, "N", NAVY, anchor="center")
    text(298 + dx, 544, "S", NAVY, anchor="center")
    text(305 + dx, 535, "E", NAVY, anchor="center")

# ---------- left legend texts ----------
BR = "#a52a2a"
GREEN = "#00a000"
DB = "#1c3cc8"
for x, y, s, c in [
    (6, 15, "Czas lokalny", "black"), (6, 27, "(CET/CEST)", "black"),
    (6, 42, "Temperatura gruntu", BR), (27, 53, "max/min", BR), (6, 64, "Temperatura:", "black"),
    (13, 76, "punkt środkowy", "#ff0000"), (27, 87, "max/min", "#ffdcd2"), (10, 98, "odczuwana", "#0000e0"),
    (27, 108, "max/min", "#a8e0ff"), (6, 120, "Temp. punktu rosy", "#6a5acd"), (6, 137, "Opad powyżej skali", "#ff0000"),
    (6, 151, "Wilgotność względna", "#e64a19"), (6, 165, "Wystąpienie burzy", "black"),
    (6, 179, "Deszcz:", GREEN), (49, 179, "max", GREEN), (49, 190, "średni", GREEN),
    (6, 201, "Śnieg:", DB), (49, 201, "max", DB), (49, 212, "średni", DB),
    (6, 224, "Wystąpienie opadu", "#ff0000"), (6, 237, "konwekcyjnego", "#ff0000"),
    (5, 263, "Ciśnienie", "black"), (5, 276, "zredukowane", "black"), (5, 289, "do poziomu morza", "black"),
    (5, 318, "Wiatr na 10m:", "black"), (10, 334, "poryw powyżej skali", "#ff0000"), (10, 348, "max porywy wiatru", "#ff0000"),
    (10, 369, "prędkość wiatru", "#0000a0"), (10, 381, "w środku obszaru", "#0000a0"), (10, 409, "kierunek wiatru", "#0000a0"),
    (6, 429, "Wierzchołek chmur", BR), (6, 444, "Podstawa chmur*", "black"), (6, 456, "o pokryciu", "black"),
    (11, 468, "> 7.9 okt.", "black"), (11, 479, "> 6.5 okt.", "#4d4d4d"), (10, 490, "> 4.5 okt.", "#8c8c8c"),
    (10, 501, "> 2.5 okt.", "#dddddd"), (6, 526, "Widzialność", "#ff8c00"), (6, 543, "Chmury:", "black"),
    (10, 569, "średnie", "#999999"), (10, 581, "niskie", "#444444"), (10, 593, "bardzo niskie", "#333333"),
    (6, 605, "Mgła", "#ffb400"), (6, 622, "Czas uniwersalny (UTC)", "black"),
]:
    text(x, y, s, c, LEG)
box(11, 505, 55, 517, BLUE)
text(12, 511, "> 0.1 okt.", "white", LEG)
box(10, 551, 51, 563, BLUE)
text(11, 557, "wysokie", "white", LEG)
text(5, 648, "<b>* powyżej poziomu morza</b>", "black", 9.5)

leader([(68, 16), (133, 16), (157, 46)], "black")
leader([(102, 43), (120, 43), (165, 108)], BR)
leader([(92, 76), (116, 76)], "#ff0000")
leader([(130, 76), (135, 77), (157, 100)], "#ff0000")
leader([(70, 99), (135, 99)], "#0000e0")
leader([(93, 120), (135, 120), (137, 113)], "#6a5acd")
leader([(103, 137), (137, 137), (146, 147)], "#ff0000")
leader([(106, 151), (111, 151)], "#e64a19")
leader([(130, 151), (145, 165)], "#e64a19")
leader([(94, 165), (112, 165)], "black")
leader([(130, 165), (138, 172)], "black")
leader([(71, 179), (139, 179)], GREEN)
leader([(80, 190), (139, 190)], GREEN)
leader([(70, 201), (112, 201)], DB)
leader([(130, 201), (160, 172)], DB)
leader([(81, 212), (134, 212), (170, 175)], DB)
leader([(94, 224), (144, 224), (146, 220)], "#ff0000")
leader([(51, 264), (134, 264)], "black")
leader([(112, 334), (118, 334)], "#ff0000")
leader([(130, 334), (139, 317)], "#ff0000")
leader([(105, 348), (132, 348), (145, 340)], "#ff0000")
leader([(92, 367), (135, 367)], "#0000a0")
leader([(86, 410), (135, 410)], "#0000a0")
leader([(100, 431), (135, 431), (163, 440)], BR)
leader([(57, 468), (135, 468), (190, 456)], "black")
leader([(57, 480), (134, 480)], "#4d4d4d")
leader([(57, 490), (130, 490), (138, 500)], "#8c8c8c")
leader([(57, 501), (132, 501), (137, 505)], "#dddddd")
leader([(57, 509.5), (137, 509.5)], BLUE)
leader([(57, 512), (137, 512)], BLUE)
leader([(68, 527), (129, 527), (173, 465)], "#ff8c00")
leader([(54, 556), (186, 556)], BLUE)
leader([(54, 558), (186, 558)], BLUE)
leader([(50, 571), (192, 571)], "#999999")
leader([(40, 582), (130, 582)], "#444444")
leader([(74, 594), (148, 594)], "#333333")
leader([(25, 605), (217, 605), (219, 590)], "#ffb400")
leader([(139, 623), (147, 623), (157, 608)], "black")

fig.update_layout(width=W, height=H, margin=dict(l=0, r=0, t=0, b=0, pad=0, autoexpand=False), showlegend=False,
                  paper_bgcolor="white", plot_bgcolor="rgba(0,0,0,0)", barmode="overlay", hovermode=False,
                  font=dict(family=FONT, size=12), shapes=shapes, annotations=annotations, **layout)

fig.write_html("out.html", config={"displayModeBar": False},
               post_script="document.body.style.margin='0';document.documentElement.style.overflow='hidden';")
